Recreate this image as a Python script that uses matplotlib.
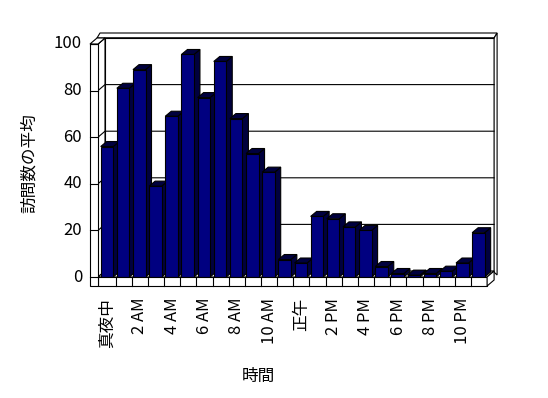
import matplotlib
matplotlib.use("Agg")
import matplotlib.pyplot as plt
from matplotlib.patches import Polygon, Rectangle

plt.rcParams['font.family'] = ['Noto Sans CJK JP', 'DejaVu Sans']

# ---- data ----
hours = list(range(24))
visits = [56, 81, 89, 39, 69, 95.5, 77, 92.5, 68, 53, 45, 7.5,
          6, 26, 25, 21.5, 20, 4.5, 1.5, 0.8, 1.5, 2.5, 6, 19]
tick_labels = ['真夜中', '2 AM', '4 AM', '6 AM', '8 AM', '10 AM',
               '正午', '2 PM', '4 PM', '6 PM', '8 PM', '10 PM']
tick_positions = [0, 2, 4, 6, 8, 10, 12, 14, 16, 18, 20, 22]
y_ticks = [0, 20, 40, 60, 80, 100]
y_label = '訪問数の平均'
x_label = '時間'

# ---- layout (pixel geometry -> data units) ----
W, H = 548, 398
X0, PITCH = 99.5, 16.15     # category origin / pitch in px
Y0, SCALE = 277.0, 2.33     # value 0 baseline / px per unit


def X(px):
    return (px - X0) / PITCH


def Y(py):
    return (Y0 - py) / SCALE


fig = plt.figure(figsize=(W / 100, H / 100), dpi=100)
ax = fig.add_axes([0, 0, 1, 1])
ax.set_xlim(X(0), X(W))
ax.set_ylim(Y(H), Y(0))
ax.axis('off')

LW = 0.8
DX, DY = 7 / PITCH, 6 / SCALE          # chart depth offset
ymax = 100
n = len(hours)
xr = n                                   # right end of floor (category units)

# back wall
ax.add_patch(Polygon([(X(105), DY), (xr + DX, DY), (xr + DX, ymax + DY), (X(105), ymax + DY)],
                     closed=True, fc='white', ec='black', lw=LW, zorder=1))
# back wall top thickness
ax.add_patch(Polygon([(X(97), ymax + DY), (xr + DX, ymax + DY), (xr + DX + 3 / PITCH, Y(33)), (X(100), Y(33))],
                     closed=True, fc='white', ec='black', lw=LW, zorder=1))
# back wall right thickness
ax.add_patch(Polygon([(xr + DX, ymax + DY), (xr + DX + 3 / PITCH, Y(33)), (xr + DX + 3 / PITCH, Y(275)), (xr + DX, DY - 0.5)],
                     closed=True, fc='white', ec='black', lw=LW, zorder=1))
# gridlines
for v in y_ticks[1:]:
    ax.plot([X(98), X(105), xr + DX], [v, v + DY, v + DY], color='black', lw=LW, zorder=2)

# floor top
ax.add_patch(Polygon([(X(98), 0), (xr, 0), (xr + DX, DY), (X(105), DY)],
                     closed=True, fc='white', ec='black', lw=LW, zorder=2))

# bars
BW = 12.5 / PITCH
BOFF = 1.2 / PITCH
BDX, BDY = 6 / PITCH, 5 / SCALE
front_c = '#000080'
dark_c = '#00003e'
for i, v in zip(hours, visits):
    x0 = i + BOFF
    x1 = x0 + BW
    ax.add_patch(Polygon([(x1, 0), (x1 + BDX, BDY), (x1 + BDX, v + BDY), (x1, v)],
                         closed=True, fc=dark_c, ec='black', lw=LW, zorder=3))
    ax.add_patch(Polygon([(x0, v), (x1, v), (x1 + BDX, v + BDY), (x0 + BDX, v + BDY)],
                         closed=True, fc=dark_c, ec='black', lw=LW, zorder=3))
    ax.add_patch(Rectangle((x0, 0), BW, v, fc=front_c, ec='black', lw=LW, zorder=3))

# floor front band with category ticks
band = Y(286)
ax.add_patch(Rectangle((X(98), band), xr - X(98), -band, fc='white', ec='black', lw=LW, zorder=4))
for k in range(1, n):
    ax.plot([k, k], [band, 0], color='black', lw=LW, zorder=4)
# floor right side
ax.add_patch(Polygon([(xr, 0), (xr, band), (xr + DX, band + DY), (xr + DX, DY)],
                     closed=True, fc='white', ec='black', lw=LW, zorder=4))

# left wall slab
ax.add_patch(Polygon([(X(98), 0), (X(105), DY), (X(105), ymax + DY), (X(98), ymax)],
                     closed=True, fc='white', ec='black', lw=LW, zorder=1.5))
ax.add_patch(Rectangle((X(90), band), X(98) - X(90), ymax - band, fc='white', ec='black', lw=LW, zorder=4))
ax.add_patch(Polygon([(X(90), ymax), (X(98), ymax), (X(105), ymax + DY), (X(97), ymax + DY)],
                     closed=True, fc='white', ec='black', lw=LW, zorder=4))
for v in y_ticks:
    ax.plot([X(90), X(98)], [v, v], color='black', lw=LW, zorder=5)

# tick labels
FS = 12
for v in y_ticks:
    ax.text(X(82), v, f'{v}', ha='right', va='center', fontsize=FS, zorder=6)
for p, lab in zip(tick_positions, tick_labels):
    ax.text(p + 0.5, Y(298), lab, rotation=90, ha='center', va='top', fontsize=FS, zorder=6)

ax.text(X(29), Y(163), y_label, rotation=90, ha='center', va='center', fontsize=FS, zorder=6)
ax.text(X(258.5), Y(376), x_label, ha='center', va='center', fontsize=FS, zorder=6)

fig.savefig('out.png', dpi=100)
